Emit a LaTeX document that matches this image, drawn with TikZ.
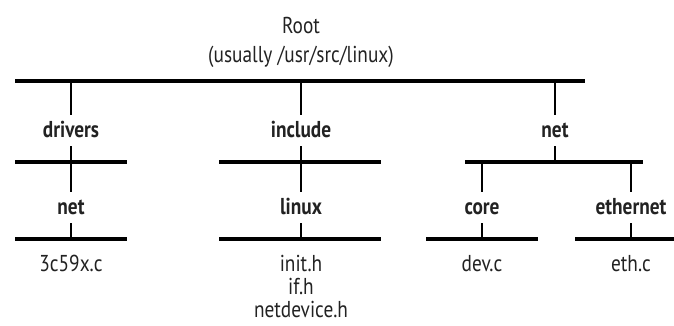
\documentclass[tikz,border=0pt]{standalone}
\usepackage{fontspec}
\setmainfont[FakeStretch=0.84]{PT Sans}
\definecolor{ink}{HTML}{222222}
\begin{document}
\begin{tikzpicture}[x=1pt,y=1pt,
  txt/.style={font=\fontsize{23}{23}\selectfont, text=ink, inner sep=0pt},
  lbl/.style={txt, font=\fontsize{23}{23}\selectfont\bfseries, minimum height=31pt, text height=13pt, text depth=0pt, anchor=base},
  leaf/.style={txt, align=center, anchor=base},
  bar/.style={line width=3.2pt},
  stem/.style={line width=2.6pt}]
\useasboundingbox (0,0) rectangle (674,-325);
% root
\node[txt, align=center, anchor=base, font=\fontsize{23}{29.5}\selectfont] (root) at (301,-62.5) {Root\\(usually /usr/src/linux)};
% bar coordinates
\coordinate (rl) at (15,-81);  \coordinate (rr) at (585,-81);
\coordinate (r1) at (71,-81);  \coordinate (r2) at (301,-81); \coordinate (r3) at (555,-81);
% level 1
\node[lbl] (drivers) at (71,-137) {drivers};
\node[lbl] (include) at (301,-137) {include};
\node[lbl] (net) at (555,-137) {net};
% level 1 bars
\coordinate (dbl) at (15,-162);  \coordinate (dbr) at (127,-162);
\coordinate (ibl) at (219,-162); \coordinate (ibr) at (381,-162);
\coordinate (nbl) at (465,-162); \coordinate (nbr) at (643,-162);
\coordinate (nbm) at (555,-162); \coordinate (nb1) at (482,-162); \coordinate (nb2) at (631,-162);
% level 2
\node[lbl] (dnet) at (71,-214) {net};
\node[lbl] (linux) at (301,-214) {linux};
\node[lbl] (core) at (482,-214) {core};
\node[lbl] (ethernet) at (631,-214) {ethernet};
% level 2 bars
\coordinate (abl) at (15,-239);  \coordinate (abr) at (127,-239); \coordinate (abm) at (71,-239);
\coordinate (bbl) at (219,-239); \coordinate (bbr) at (381,-239); \coordinate (bbm) at (301,-239);
\coordinate (cbl) at (426,-239); \coordinate (cbr) at (538,-239); \coordinate (cbm) at (482,-239);
\coordinate (ebl) at (575,-239); \coordinate (ebr) at (687,-239); \coordinate (ebm) at (631,-239);
% leaves
\node[leaf] (f1) at (71,-271) {3c59x.c};
\node[leaf] (f2) at (301,-317) {init.h\\if.h\\netdevice.h};
\node[leaf] (f3) at (482,-271) {dev.c};
\node[leaf] (f4) at (631,-271) {eth.c};
% bars
\draw[bar] (rl) -- (rr);
\draw[bar] (dbl) -- (dbr);
\draw[bar] (ibl) -- (ibr);
\draw[bar] (nbl) -- (nbr);
\draw[bar] (abl) -- (abr);
\draw[bar] (bbl) -- (bbr);
\draw[bar] (cbl) -- (cbr);
\draw[bar] (ebl) -- (ebr);
% stems
\draw[stem] (r1) -- (drivers.north);
\draw[stem] (r2) -- (include.north);
\draw[stem] (r3) -- (net.north);
\draw[stem] (drivers.south) -- (dnet.north);
\draw[stem] (include.south) -- (linux.north);
\draw[stem] (net.south) -- (nbm);
\draw[stem] (nb1) -- (core.north);
\draw[stem] (nb2) -- (ethernet.north);
\draw[stem] (dnet.south) -- (abm);
\draw[stem] (linux.south) -- (bbm);
\draw[stem] (core.south) -- (cbm);
\draw[stem] (ethernet.south) -- (ebm);
\end{tikzpicture}
\end{document}
